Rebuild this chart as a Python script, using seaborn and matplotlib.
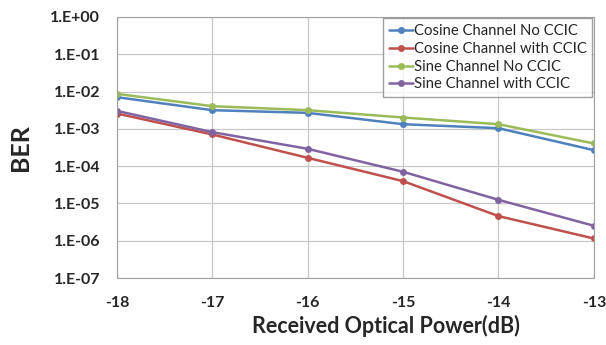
import numpy as np
import pandas as pd
import seaborn as sns
import matplotlib.pyplot as plt
from matplotlib.ticker import FuncFormatter, LogLocator, NullLocator

power = [-18, -17, -16, -15, -14, -13]
cos_no_ccic = [7.05e-3, 3.16e-3, 2.68e-3, 1.33e-3, 1.04e-3, 2.68e-4]
cos_with_ccic = [2.57e-3, 7.05e-4, 1.67e-4, 3.96e-5, 4.58e-6, 1.15e-6]
sin_no_ccic = [8.66e-3, 4.05e-3, 3.16e-3, 2.01e-3, 1.33e-3, 4.05e-4]
sin_with_ccic = [3.03e-3, 8.15e-4, 2.91e-4, 7.05e-5, 1.25e-5, 2.52e-6]

series_names = ["Cosine Channel No CCIC", "Cosine Channel with CCIC",
                "Sine Channel No CCIC", "Sine Channel with CCIC"]
colors = ["#4F81BD", "#C0504D", "#9BBB59", "#8064A2"]

rows = []
for name, vals in zip(series_names, [cos_no_ccic, cos_with_ccic, sin_no_ccic, sin_with_ccic]):
    for x, y in zip(power, vals):
        rows.append({"power": x, "ber": y, "series": name})
df = pd.DataFrame(rows)

sns.set_style("white")
plt.rcParams['font.family'] = ['Lato', 'DejaVu Sans']
plt.rcParams['axes.unicode_minus'] = False

fig, ax = plt.subplots(figsize=(6.06, 3.45), dpi=100)
fig.subplots_adjust(left=0.193, right=0.980, top=0.951, bottom=0.194)

sns.lineplot(data=df, x="power", y="ber", hue="series", hue_order=series_names,
             palette=colors, marker="o", markersize=5, markeredgewidth=0,
             linewidth=1.8, ax=ax)

ax.set_yscale("log")
ax.set_ylim(1e-7, 1e0)
ax.set_xlim(-18, -13)
ax.set_xticks(power)
ax.yaxis.set_major_locator(LogLocator(base=10, numticks=10))
ax.yaxis.set_minor_locator(NullLocator())
ax.yaxis.set_major_formatter(FuncFormatter(lambda v, p: "1.E%+03d" % int(round(np.log10(v)))))
ax.grid(True, color="#c8c8c8", linewidth=0.9)
ax.set_axisbelow(True)
for s in ax.spines.values():
    s.set_color("#a0a0a0")
ax.tick_params(axis="both", length=0, labelsize=11.5)
ax.tick_params(axis="y", pad=12)
ax.tick_params(axis="x", pad=13)
for lab in ax.get_xticklabels() + ax.get_yticklabels():
    lab.set_fontweight("bold")

ax.set_xlabel("Received Optical Power(dB)", fontsize=15.5, fontweight="bold")
ax.xaxis.set_label_coords(0.564, -0.14)
ax.set_ylabel("BER", fontsize=18, fontweight="bold", labelpad=13)

leg = ax.legend(loc="upper right", fontsize=10.7, frameon=True, fancybox=False,
                borderaxespad=0.1, handlelength=1.6, handletextpad=0.05,
                labelspacing=0.25, borderpad=0.4)
leg.get_frame().set_edgecolor("#888888")
leg.get_frame().set_linewidth(1.0)

fig.savefig("out.png", dpi=100)
